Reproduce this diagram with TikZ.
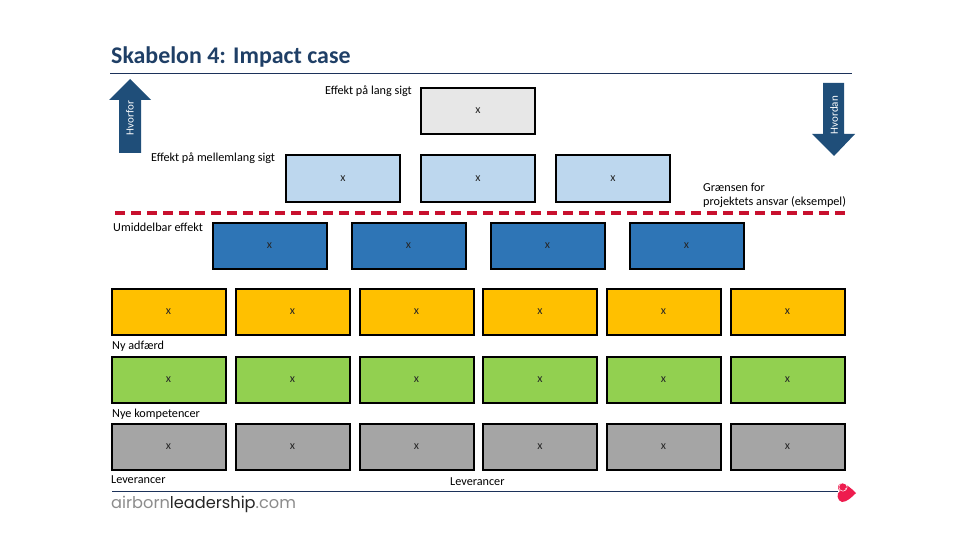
\documentclass[tikz,border=0pt]{standalone}
\usepackage{fontspec}
\setmainfont{Carlito}
\newfontfamily\logofont{Poppins}
\usetikzlibrary{positioning}
\definecolor{navy}{HTML}{1F3864}
\definecolor{titleblue}{HTML}{1F3F66}
\definecolor{arrowblue}{HTML}{1F4E79}
\definecolor{topgrey}{HTML}{E7E7E7}
\definecolor{midblue}{HTML}{BDD7EE}
\definecolor{deepblue}{HTML}{2E75B6}
\definecolor{gold}{HTML}{FFC000}
\definecolor{leaf}{HTML}{92D050}
\definecolor{stone}{HTML}{A5A5A5}
\definecolor{dashred}{HTML}{C8102E}
\definecolor{heart}{HTML}{EE1C4E}
\tikzset{
  box/.style={draw=black,line width=2pt,minimum width=114pt,minimum height=46pt,inner sep=0pt,font=\fontsize{12}{13}\selectfont,text=black!85},
  lbl/.style={inner sep=0pt,anchor=west,text=black,font=\fontsize{12.2}{14}\selectfont},
  arrowtxt/.style={inner sep=0pt,text=white,rotate=90,font=\fontsize{11}{12}\selectfont},
  rule/.style={draw=navy!90!black,line width=0.7pt},
}
\begin{document}
\begin{tikzpicture}[x=1pt,y=-1pt]
\useasboundingbox (0,0) rectangle (960,540);
\fill[white] (0,0) rectangle (960,540);
\node[anchor=west,inner sep=0pt,text=titleblue,font=\bfseries\fontsize{23.9}{28}\selectfont] (title) at (111,57) {Skabelon 4: Impact case};
\coordinate (r1a) at (110,73); \coordinate (r1b) at (852,73);
\draw[rule] (r1a) -- (r1b);
\coordinate (r2a) at (112,491); \coordinate (r2b) at (838,491);
\draw[rule] (r2a) -- (r2b);
% arrows
\fill[arrowblue] (130,79) -- (151,100) -- (141,100) -- (141,153) -- (119,153) -- (119,100) -- (109,100) -- cycle;
\node[arrowtxt] (hvorfor) at (130,118) {Hvorfor};
\fill[arrowblue] (834,156) -- (855,134) -- (844,134) -- (844,83) -- (823,83) -- (823,134) -- (812,134) -- cycle;
\node[arrowtxt] (hvordan) at (834,115) {Hvordan};
% boxes
\node[box,fill=topgrey] (t1) at (478,111) {x};
\foreach \n/\x in {m1/343,m2/478,m3/613} \node[box,fill=midblue] (\n) at (\x,178.5) {x};
\foreach \n/\x in {b1/269.5,b2/408.5,b3/547.5,b4/686.5} \node[box,fill=deepblue] (\n) at (\x,245.5) {x};
\foreach \i/\x in {1/168.5,2/292.5,3/416.5,4/540,5/663.5,6/787.5} {
  \node[box,fill=gold] (y\i) at (\x,312) {x};
  \node[box,fill=leaf] (g\i) at (\x,380) {x};
  \node[box,fill=stone] (s\i) at (\x,447) {x};
}
% dashed boundary
\coordinate (d1) at (115,213); \coordinate (d2) at (848,213);
\draw[dashred,line width=3.2pt,dash pattern=on 10pt off 6pt] (d1) -- (d2);
% labels
\node[lbl] (l1) at (325,91) {Effekt på lang sigt};
\node[lbl] (l2) at (151,158) {Effekt på mellemlang sigt};
\node[lbl,align=left] (l3) at (703,195.5) {Grænsen for\\projektets ansvar (eksempel)};
\node[lbl] (l4) at (113,227) {Umiddelbar effekt};
\node[lbl] (l5) at (112,346) {Ny adfærd};
\node[lbl] (l6) at (112,414) {Nye kompetencer};
\node[lbl] (l7) at (111,480) {Leverancer};
\node[lbl] (l8) at (450,482) {Leverancer};
% logo
\node[anchor=west,inner sep=0pt,font=\logofont\fontsize{16.2}{18}\selectfont] (logo) at (111,504)
  {\textcolor{black!45}{airborn}\textcolor{black!85}{leadership}\textcolor{black!45}{.com}};
% heart mark
\fill[heart] (856,493) .. controls (851,488) and (846,484) .. (842,483) .. controls (837,484) and (837,489) .. (840,491) .. controls (836,493) and (837,501) .. (842,502) .. controls (847,502) and (852,497) .. (856,493) -- cycle;
\draw[white,line width=0.5pt] (843,487) circle (4.2);
\fill[white] (845.5,489) circle (0.7);
\end{tikzpicture}
\end{document}
